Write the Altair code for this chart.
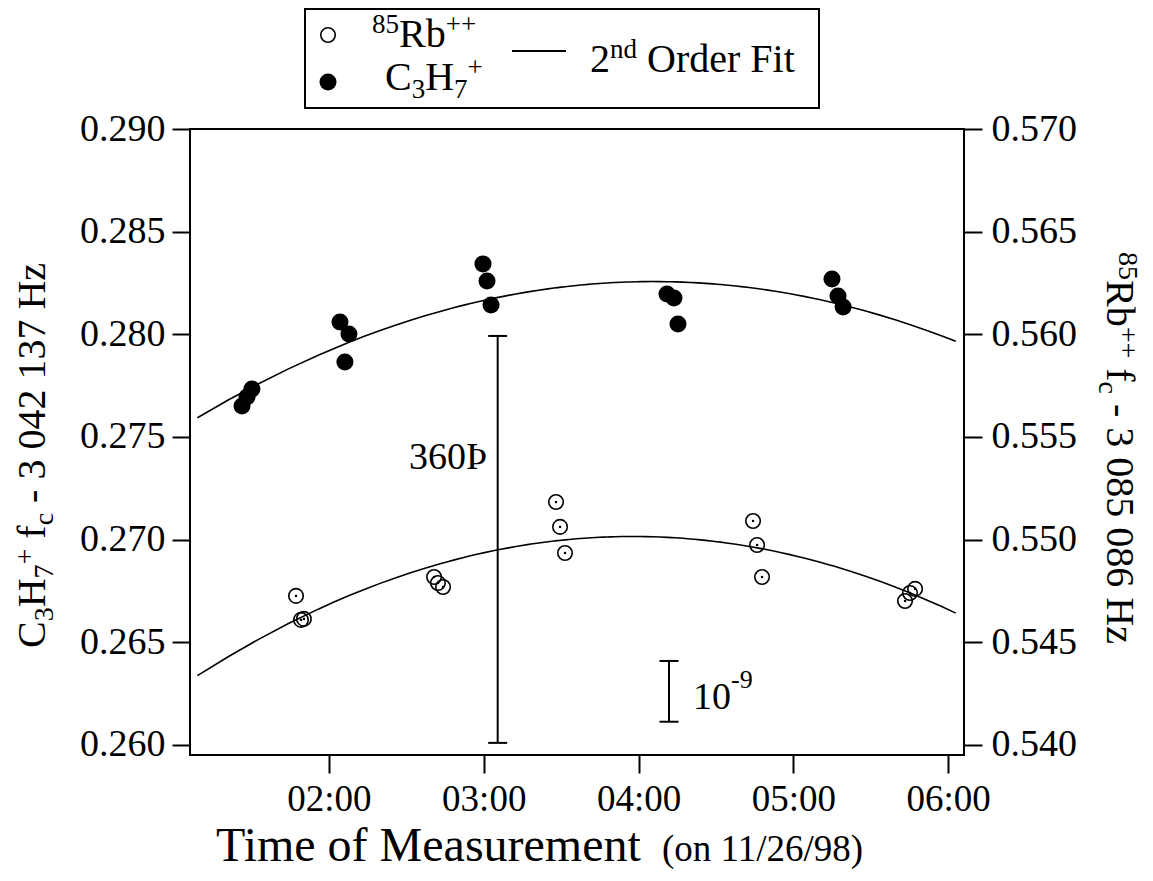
import altair as alt
import pandas as pd

# ---------------- data ----------------
# time of measurement in decimal hours, frequency offsets in Hz
c3h7_time = [1.438, 1.470, 1.502, 2.071, 2.103, 2.129, 2.995, 3.021, 3.047,
             4.184, 4.229, 4.255, 5.250, 5.289, 5.322]
c3h7_freq = [0.27651, 0.27695, 0.27734, 0.28060, 0.27865, 0.28002, 0.28343, 0.28260, 0.28143,
             0.28196, 0.28177, 0.28050, 0.28269, 0.28187, 0.28133]

rb_time = [1.787, 1.819, 1.838, 2.679, 2.704, 2.737, 3.467, 3.493, 3.525,
           4.740, 4.766, 4.798, 5.722, 5.754, 5.787]
rb_freq = [0.54726, 0.54609, 0.54614, 0.54818, 0.54789, 0.54769, 0.55183, 0.55062, 0.54935,
           0.55091, 0.54974, 0.54818, 0.54701, 0.54740, 0.54760]

# scale bars ("360Þ" and 10^-9), on the C3H7+ axis
bar_time = [3.090, 4.197]
bar_low = [0.26010, 0.26113]
bar_high = [0.27992, 0.26409]

x_ticks = [2, 3, 4, 5, 6]
left_ticks = [0.260, 0.265, 0.270, 0.275, 0.280, 0.285, 0.290]
right_ticks = [0.540, 0.545, 0.550, 0.555, 0.560, 0.565, 0.570]

fit_extent = [1.15, 6.05]

# ---------------- layout ----------------
FONT = "Liberation Serif"
OX, OY = 190, 129          # page position of the plot area's top-left corner
W, H = 774, 626
X_DOM = [1.102, 6.103]
YL_DOM = [0.25951, 0.290]
YR_DOM = [0.53951, 0.570]

c3 = pd.DataFrame({"t": c3h7_time, "f": c3h7_freq})
rb = pd.DataFrame({"t": rb_time, "f": rb_freq})
bars = pd.DataFrame({"t": bar_time, "lo": bar_low, "hi": bar_high})

xs = alt.Scale(domain=X_DOM, nice=False, zero=False)
yl = alt.Scale(domain=YL_DOM, nice=False, zero=False)
yr = alt.Scale(domain=YR_DOM, nice=False, zero=False)

axis_common = dict(domain=False, grid=False, tickColor="black", tickWidth=2,
                   tickSize=18, labelFont=FONT, labelColor="black",
                   labelOverlap=False, zindex=2)

x_axis = alt.Axis(values=x_ticks, labelExpr="'0' + datum.value + ':00'", orient="bottom",
                  labelPadding=8, labelFontSize=37, title=None, **axis_common)
yl_axis = alt.Axis(values=left_ticks, format=".3f", orient="left", labelPadding=7,
                   labelFontSize=38, title=None, **axis_common)
yr_axis = alt.Axis(values=right_ticks, format=".3f", orient="right", labelPadding=9,
                   labelFontSize=38, title=None, **axis_common)


def X(field="t"):
    # identical x axis on every data layer so the shared axis merges cleanly
    return alt.X(f"{field}:Q", scale=xs, axis=x_axis)


# ---------------- text helpers (Times metrics) ----------------
ADV = {" ": 250, ".": 250, "-": 333, "+": 564, "/": 278, "(": 333, ")": 333, ":": 278,
       "C": 667, "H": 722, "R": 667, "O": 722, "F": 556, "T": 611, "M": 889, "Þ": 556,
       "b": 500, "f": 333, "c": 444, "z": 444, "n": 500, "d": 500, "r": 333, "e": 444,
       "i": 278, "t": 278, "m": 778, "o": 500, "a": 444, "s": 389, "u": 500}


def adv(s, size):
    return sum(ADV.get(ch, 500) for ch in s) * size / 1000.0


def text_mark(px, py, text, size, angle=0):
    return alt.Chart(alt.Data(values=[{}])).mark_text(
        font=FONT, fontSize=size, color="black", align="left", baseline="alphabetic",
        angle=angle
    ).encode(x=alt.value(px - OX), y=alt.value(py - OY), text=alt.value(text))


def run(pieces, x0, y0, direction="h"):
    out = []
    pos = 0.0
    for text, size, shift in pieces:
        lead = len(text) - len(text.lstrip(" "))
        p = pos + adv(" " * lead, size)
        s = text.strip(" ")
        if direction == "h":
            out.append(text_mark(x0 + p, y0 - shift, s, size, 0))
        elif direction == "up":
            out.append(text_mark(x0 - shift, y0 - p, s, size, 270))
        else:
            out.append(text_mark(x0 + shift, y0 + p, s, size, 90))
        pos += adv(text, size)
    return out


# ---------------- C3H7+ (left axis) ----------------
c3_points = alt.Chart(c3).mark_circle(size=290, color="black", opacity=1).encode(
    x=X(), y=alt.Y("f:Q", scale=yl, axis=yl_axis),
)
c3_fit = alt.Chart(c3).transform_regression(
    "t", "f", method="poly", order=2, extent=fit_extent
).mark_line(color="black", strokeWidth=1.6).encode(
    x=X(), y=alt.Y("f:Q", scale=yl, axis=None),
)
bar_rule = alt.Chart(bars).mark_rule(color="black", strokeWidth=2).encode(
    x=X(), y=alt.Y("lo:Q", scale=yl, axis=None), y2="hi:Q",
)
cap_lo = alt.Chart(bars).mark_point(shape="M-1,0L1,0", size=361, filled=False,
                                    color="black", strokeWidth=2, opacity=1).encode(
    x=X(), y=alt.Y("lo:Q", scale=yl, axis=None),
)
cap_hi = alt.Chart(bars).mark_point(shape="M-1,0L1,0", size=361, filled=False,
                                    color="black", strokeWidth=2, opacity=1).encode(
    x=X(), y=alt.Y("hi:Q", scale=yl, axis=None),
)

# ---------------- 85Rb++ (right axis) ----------------
rb_points = alt.Chart(rb).mark_point(shape="circle", filled=False, size=210, color="black",
                                     strokeWidth=1.6, opacity=1).encode(
    x=X(), y=alt.Y("f:Q", scale=yr, axis=yr_axis),
)
rb_dots = alt.Chart(rb).mark_square(size=5, color="black", opacity=1).encode(
    x=X(), y=alt.Y("f:Q", scale=yr, axis=None),
)
rb_fit = alt.Chart(rb).transform_regression(
    "t", "f", method="poly", order=2, extent=fit_extent
).mark_line(color="black", strokeWidth=1.6).encode(
    x=X(), y=alt.Y("f:Q", scale=yr, axis=None),
)

# ---------------- annotations, titles, legend ----------------
one = alt.Data(values=[{}])
annots = []
annots += run([("360Þ", 38, 0)], 409, 469)
annots += run([("10", 38, 0), ("-9", 26, 21)], 693, 709)
annots += run([("Time of Measurement", 48, 0)], 216, 861)
annots += run([("(on 11/26/98)", 37, 0)], 662, 861)

annots += run([("C", 40, 0), ("3", 28, -8), ("H", 40, 0), ("7", 28, -8), ("+", 28, 11),
               (" f", 40, 0), ("c", 28, -8), (" - 3 042 137 Hz", 40, 0)], 45, 648, "up")
annots += run([("85", 28, 12), ("Rb", 40, 0), ("++", 28, 12), (" f", 40, 0), ("c", 28, -8),
               (" - 3 085 086 Hz", 40, 0)], 1107, 252, "down")

legend_box = alt.Chart(one).mark_rect(fillOpacity=0, stroke="black", strokeWidth=2).encode(
    x=alt.value(305 - OX), x2=alt.value(819 - OX), y=alt.value(9 - OY), y2=alt.value(108 - OY))
legend_open = alt.Chart(one).mark_point(shape="circle", filled=False, size=210, color="black",
                                        strokeWidth=1.6, opacity=1).encode(
    x=alt.value(328 - OX), y=alt.value(35 - OY))
legend_fill = alt.Chart(one).mark_circle(size=290, color="black", opacity=1).encode(
    x=alt.value(328 - OX), y=alt.value(82 - OY))
legend_line = alt.Chart(one).mark_rule(color="black", strokeWidth=2).encode(
    x=alt.value(512 - OX), x2=alt.value(566 - OX), y=alt.value(51 - OY))
annots += [legend_box, legend_open, legend_fill, legend_line]
annots += run([("85", 27, 14), ("Rb", 40, 0), ("++", 27, 14)], 372, 47)
annots += run([("C", 40, 0), ("3", 27, -8), ("H", 40, 0), ("7", 27, -8), ("+", 27, 14)], 385, 90)
annots += run([("2", 40, 0), ("nd", 27, 14), (" Order Fit", 40, 0)], 590, 72)

chart = alt.layer(
    c3_points, c3_fit, bar_rule, cap_lo, cap_hi,
    rb_points, rb_dots, rb_fit,
    *annots
).resolve_scale(y="independent").properties(
    width=W, height=H,
    autosize=alt.AutoSizeParams(type="none"),
    padding={"left": OX - 8, "top": OY - 8, "right": 181, "bottom": 117},
    background="white",
).configure_view(stroke="black", strokeWidth=2)

chart.save("out.html", embed_options={"renderer": "svg", "actions": False})
